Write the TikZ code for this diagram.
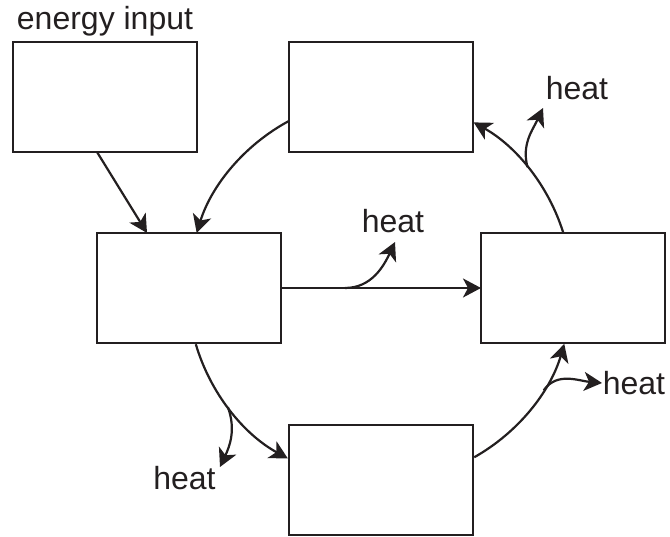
\documentclass[tikz,border=0pt]{standalone}
\usepackage{fontspec}
\setmainfont{Liberation Sans}
\usetikzlibrary{arrows.meta,calc}
\definecolor{ink}{HTML}{231F20}
\begin{document}
\begin{tikzpicture}[x=1pt,y=1pt,
  box/.style={draw=ink, line width=2.3pt, minimum width=184pt, minimum height=110pt, inner sep=0pt, outer sep=0pt},
  flow/.style={draw=ink, line width=2.2pt, -{Stealth[length=18pt,width=19pt,inset=5pt]}},
  lbl/.style={text=ink, font=\fontsize{32}{38}\selectfont, inner sep=0pt, anchor=base}]
\useasboundingbox (0,0) rectangle (670,537);
% boxes
\node[box] (A) at (105,440) {};
\node[box] (B) at (381,440) {};
\node[box] (C) at (189,249) {};
\node[box] (D) at (573,249) {};
\node[box] (E) at (381,57) {};
\node[lbl] (title) at (105,507) {energy input};
% energy input -> C
\draw[flow] ([xshift=-8pt]A.south) -- ([xshift=-42pt]C.north);
% C -> D
\draw[flow] (C.east) -- (D.west);
% circular connectors
\coordinate (O) at (380,247);
\path (O) ++(118.2:192) coordinate (bc1);
\draw[flow] (bc1) arc[start angle=118.2, end angle=162.7, radius=192];
\path (O) ++(17.5:192) coordinate (db1);
\draw[flow] (db1) arc[start angle=17.5, end angle=60.8, radius=192];
\path (O) ++(196.4:192) coordinate (ce1);
\draw[flow] (ce1) arc[start angle=196.4, end angle=241.3, radius=192];
\path (O) ++(299.4:192) coordinate (ed1);
\draw[flow] (ed1) arc[start angle=299.4, end angle=343.7, radius=192];
% heat branches
\coordinate (h1s) at (345,249);
\coordinate (h1e) at (395,295);
\draw[flow] (h1s) to[out=0,in=245] (h1e);
\node[lbl] (heat1) at (393,304) {heat};

\path (O) ++(39.8:192) coordinate (h2s);
\coordinate (h2e) at (543,429);
\draw[flow] (h2s) to[out=105,in=245] (h2e);
\node[lbl] (heat2) at (577,437) {heat};

\path (O) ++(217.6:192) coordinate (h3s);
\coordinate (h3e) at (220,70);
\draw[flow] (h3s) to[out=290,in=65] (h3e);
\node[lbl] (heat3) at (184.5,47) {heat};

\path (O) ++(328.5:192) coordinate (h4s);
\coordinate (h4e) at (602,154);
\draw[flow] (h4s) to[out=55,in=175] (h4e);
\node[lbl] (heat4) at (634,142) {heat};
\end{tikzpicture}
\end{document}
